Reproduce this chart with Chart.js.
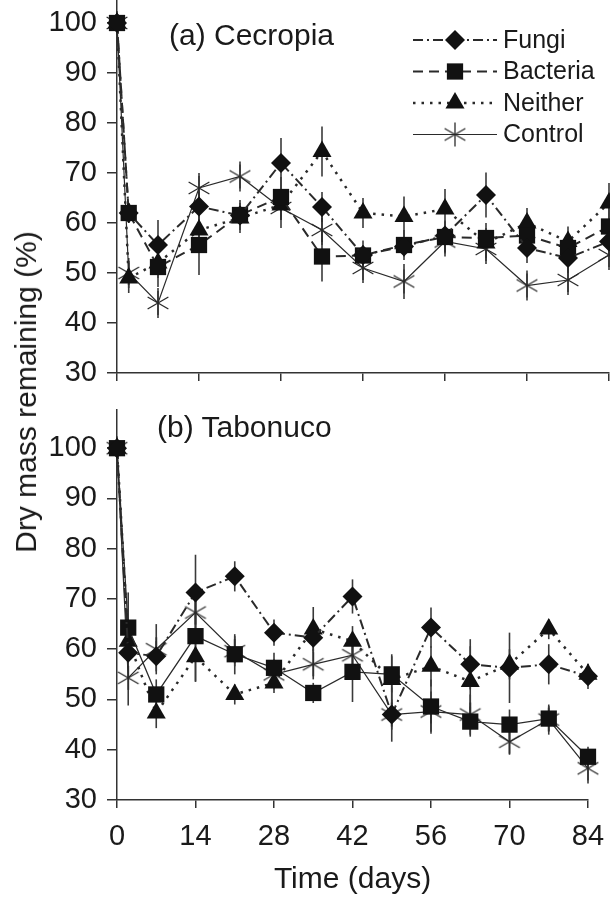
<!DOCTYPE html>
<html>
<head>
<meta charset="utf-8">
<script src="https://cdn.jsdelivr.net/npm/chart.js@4.4.1/dist/chart.umd.min.js"></script>
<style>
  html, body { margin: 0; padding: 0; background: #fff; }
  #wrap { position: relative; width: 610px; height: 898px; overflow: hidden; font-family: "Liberation Sans", Arial, sans-serif; color: #1a1a1a; }
  canvas { position: absolute; left: 0; }
  .panel { position: absolute; font-size: 30px; line-height: 30px; white-space: nowrap; }
  #ytitle { position: absolute; left: 26px; top: 392px; font-size: 30px; line-height: 30px; white-space: nowrap;
            transform: translate(-50%, -50%) rotate(-90deg); }
</style>
</head>
<body>
<div id="wrap">
  <canvas id="top" width="610" height="390" style="top:0"></canvas>
  <canvas id="bottom" width="610" height="498" style="top:400px"></canvas>
  <div class="panel" style="left:169px; top:20px">(a) Cecropia</div>
  <div class="panel" style="left:157px; top:412px">(b) Tabonuco</div>
  <div id="ytitle">Dry mass remaining (%)</div>
</div>
<script>
// sampling days
const days = [0, 2, 7, 14, 21, 28, 35, 42, 49, 56, 63, 70, 77, 84];
const xTicks = [0, 14, 28, 42, 56, 70, 84];
const yTicks = [30, 40, 50, 60, 70, 80, 90, 100];
const seriesNames = ['Fungi', 'Bacteria', 'Neither', 'Control'];

// (a) Cecropia
const fungiA    = [100, 62, 55.6, 63.3, 61.5, 72, 63.2, 53.6, 55.3, 57.5, 65.6, 55, 53, 56.3];
const bacteriaA = [100, 62, 51.2, 55.6, 61.6, 65.2, 53.3, 53.5, 55.6, 57.2, 57, 57.5, 55, 59.3];
const neitherA  = [100, 49, 52, 58.6, 61, 63.6, 74.3, 62, 61.3, 62.8, 56, 60, 56.3, 64];
const controlA  = [100, 50, 44, 67, 69.3, 63, 58.6, 51, 48.3, 56.3, 54.8, 47.5, 48.6, 53.6];
const fungiAErr    = [0, 2, 5, 3, 2, 5, 3, 2, 2, 3, 4.5, 3, 3, 3];
const bacteriaAErr = [0, 2, 4, 6, 3, 4, 5, 3, 3, 3, 3, 3, 3, 4];
const neitherAErr  = [0, 3, 3, 4, 3, 3, 5, 3, 4, 4, 3, 3, 3, 4];
const controlAErr  = [0, 3, 3, 3, 3, 4, 3, 3, 3.5, 3, 3, 3, 3, 3];

// (b) Tabonuco
const fungiB    = [100, 59.3, 58.6, 71.3, 74.5, 63.3, 62.3, 70.5, 47, 64.3, 57, 56.3, 57, 54.6];
const bacteriaB = [100, 64.3, 51, 62.6, 59, 56.3, 51.3, 55.5, 55, 48.6, 45.6, 45, 46.2, 38.6];
const neitherB  = [100, 61.6, 47.3, 58.5, 51, 53.3, 64, 61.6, 54, 56.6, 53.6, 57, 64, 55];
const controlB  = [100, 54.3, 60, 67.3, 59.6, 55, 57, 58.8, 47, 47.6, 47, 41.6, 46, 36.3];
const fungiBErr    = [0, 3, 3, 7.5, 3, 2.6, 3, 3.4, 3, 4, 5, 7, 4, 2.5];
const bacteriaBErr = [0, 7, 3, 9, 4, 3, 2, 6, 3.6, 5.4, 3, 3, 2.5, 2];
const neitherBErr  = [0, 3, 3, 5, 2, 2, 4.4, 3, 5, 4, 7, 3, 2, 2];
const controlBErr  = [0, 5.5, 5, 4, 3, 3, 3, 3, 5.4, 4, 4, 2.6, 3, 3];

Chart.defaults.font.family = '"Liberation Sans", Arial, sans-serif';
Chart.defaults.color = '#1a1a1a';

// six-armed asterisk for the control series
function makeAsterisk(size) {
  const c = document.createElement('canvas');
  c.width = size; c.height = size;
  const g = c.getContext('2d');
  const r = size / 2 - 1;
  g.strokeStyle = '#2a2a2a';
  g.lineWidth = 1.3;
  [90, 30, 150].forEach(a => {
    const t = a * Math.PI / 180;
    g.beginPath();
    g.moveTo(size / 2 - r * Math.cos(t), size / 2 - r * Math.sin(t));
    g.lineTo(size / 2 + r * Math.cos(t), size / 2 + r * Math.sin(t));
    g.stroke();
  });
  return c;
}
const asterisk = makeAsterisk(26);

const styles = [
  { pointStyle: 'rectRot', pointRadius: 10, borderDash: [10, 4, 2, 4], borderWidth: 2 },
  { pointStyle: 'rect', pointRadius: 11.5, borderDash: [10, 6], borderWidth: 2 },
  { pointStyle: 'triangle', pointRadius: 11, borderDash: [2.5, 6], borderWidth: 2.5 },
  { pointStyle: asterisk, pointRadius: 13, borderDash: [], borderWidth: 1.2 }
];

function makeDatasets(values, errs, bacteriaSolid) {
  return values.map((vals, i) => {
    const st = styles[i];
    const dash = (bacteriaSolid && i === 1) ? [] : st.borderDash;
    const bw = (bacteriaSolid && i === 1) ? 1.3 : st.borderWidth;
    return {
      label: seriesNames[i],
      data: days.map((d, k) => ({ x: d, y: vals[k] })),
      errorBars: errs[i],
      borderColor: '#2a2a2a',
      borderWidth: bw,
      borderDash: dash,
      pointStyle: st.pointStyle,
      pointRadius: st.pointRadius,
      pointHoverRadius: st.pointRadius,
      pointBackgroundColor: '#111',
      pointBorderColor: '#111',
      pointBorderWidth: 0,
      tension: 0,
      clip: false,
      fill: false
    };
  });
}

const errorBarPlugin = {
  id: 'errorBars',
  beforeDatasetsDraw(chart) {
    const { ctx, scales: { x, y } } = chart;
    ctx.save();
    ctx.strokeStyle = '#3a3a3a';
    ctx.lineWidth = 1.6;
    chart.data.datasets.forEach(ds => {
      if (!ds.errorBars) return;
      ds.data.forEach((p, i) => {
        const e = ds.errorBars[i];
        if (!e) return;
        const px = x.getPixelForValue(p.x);
        ctx.beginPath();
        ctx.moveTo(px, y.getPixelForValue(p.y - e));
        ctx.lineTo(px, y.getPixelForValue(p.y + e));
        ctx.stroke();
      });
    });
    ctx.restore();
  }
};

const sampleLegend = {
  id: 'sampleLegend',
  afterDraw(chart, args, opts) {
    if (!opts.show) return;
    const ctx = chart.ctx;
    chart.data.datasets.forEach((ds, i) => {
      const y = opts.y0 + i * opts.dy;
      ctx.save();
      ctx.strokeStyle = ds.borderColor;
      ctx.lineWidth = ds.borderWidth;
      ctx.setLineDash(ds.borderDash || []);
      ctx.beginPath();
      ctx.moveTo(opts.x0, y);
      ctx.lineTo(opts.x1, y);
      ctx.stroke();
      ctx.setLineDash([]);
      ctx.fillStyle = ds.pointBackgroundColor;
      ctx.strokeStyle = ds.pointBorderColor;
      Chart.helpers.drawPoint(ctx, { pointStyle: ds.pointStyle, radius: ds.pointRadius, borderWidth: 0, rotation: 0 },
        (opts.x0 + opts.x1) / 2, y);
      ctx.fillStyle = '#1a1a1a';
      ctx.font = '25px "Liberation Sans", Arial, sans-serif';
      ctx.textBaseline = 'middle';
      ctx.textAlign = 'left';
      ctx.fillText(ds.label, opts.x1 + 6, y + 1);
      ctx.restore();
    });
  }
};

function noPad(scale) {
  scale.paddingTop = 0; scale.paddingBottom = 0;
  scale.paddingLeft = 0; scale.paddingRight = 0;
}

function makeChart(id, datasets, o) {
  return new Chart(document.getElementById(id), {
    type: 'line',
    data: { datasets },
    plugins: [errorBarPlugin, sampleLegend],
    options: {
      responsive: false,
      animation: false,
      events: [],
      layout: { padding: o.padding, autoPadding: false },
      plugins: {
        legend: { display: false },
        tooltip: { enabled: false },
        sampleLegend: o.legend
      },
      scales: {
        x: {
          type: 'linear', min: 0, max: 84,
          afterBuildTicks: s => { s.ticks = xTicks.map(v => ({ value: v })); },
          afterFit: s => { s.height = o.xHeight; noPad(s); },
          border: { display: true, color: '#333', width: 1.5 },
          grid: { drawOnChartArea: false, drawTicks: true, tickLength: 8, color: '#333', lineWidth: 1.5 },
          ticks: { display: o.xLabels, padding: 12, font: { size: 29 }, color: '#1a1a1a', maxRotation: 0 },
          title: { display: o.xLabels, text: 'Time (days)', font: { size: 30 }, color: '#1a1a1a', padding: 0 }
        },
        y: {
          type: 'linear', min: 30, max: o.yMax,
          afterBuildTicks: s => { s.ticks = yTicks.map(v => ({ value: v })); },
          afterFit: s => { s.width = 117; noPad(s); },
          border: { display: true, color: '#333', width: 1.5 },
          grid: { drawOnChartArea: false, drawTicks: true, tickLength: 10, color: '#333', lineWidth: 1.5 },
          ticks: { padding: 10, font: { size: 29 }, color: '#1a1a1a' }
        }
      }
    }
  });
}

makeChart('top',
  makeDatasets([fungiA, bacteriaA, neitherA, controlA], [fungiAErr, bacteriaAErr, neitherAErr, controlAErr], false),
  { padding: { left: 0, right: 1, top: 0, bottom: 0 }, xHeight: 17, xLabels: false, yMax: 104.6,
    legend: { show: true, x0: 413, x1: 497, y0: 40, dy: 31.5 } });

makeChart('bottom',
  makeDatasets([fungiB, bacteriaB, neitherB, controlB], [fungiBErr, bacteriaBErr, neitherBErr, controlBErr], true),
  { padding: { left: 0, right: 22, top: 10, bottom: 0 }, xHeight: 98, xLabels: true, yMax: 107.6,
    legend: { show: false } });
</script>
</body>
</html>
